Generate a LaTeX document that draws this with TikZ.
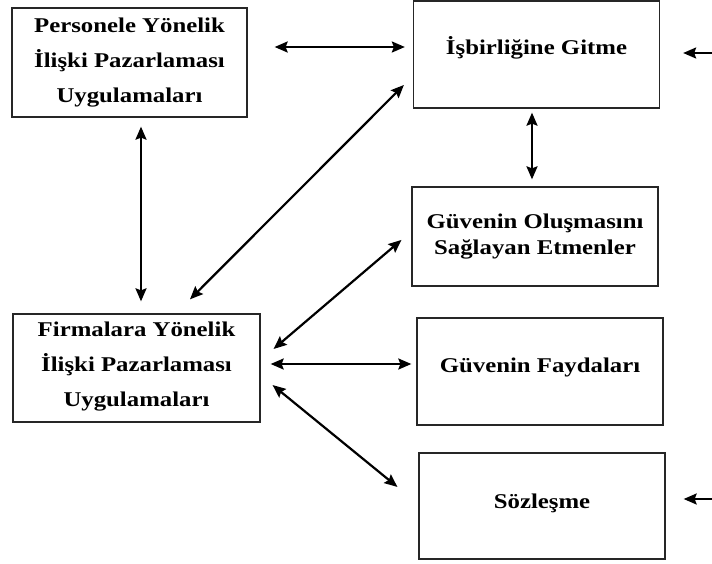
\documentclass[tikz,border=0pt]{standalone}
\usepackage{fontspec}
\setmainfont{Liberation Serif}[FakeStretch=1.18]
\usepackage{tikz}
\usetikzlibrary{arrows.meta,positioning}
\tikzstyle{arrow} = [<->,>={Stealth[length=13pt,width=11pt,inset=2pt]},line width=2.2pt,color=black]
\tikzstyle{onearrow} = [->,>={Stealth[length=13pt,width=11pt,inset=2pt]},line width=2.2pt,color=black]
\tikzstyle{kutu} = [rectangle, draw=black!85, line width=1.3pt, minimum width=246pt, minimum height=107pt, text centered, align=center, inner sep=0pt, font=\fontsize{21}{35}\selectfont\bfseries]

\begin{document}
\begin{tikzpicture}[x=1pt,y=-1pt]
\useasboundingbox (0,0) rectangle (712,563);
% Left boxes
\node[kutu, minimum width=235pt, minimum height=109pt] (personel) at (129.5,62.5) {Personele Yönelik\\İlişki Pazarlaması\\Uygulamaları};
\node[kutu, minimum width=247pt, minimum height=108pt, text depth=8pt] (firma) at (136.5,368) {Firmalara Yönelik\\İlişki Pazarlaması\\Uygulamaları};

% Right boxes
\node[kutu, minimum height=107pt, text depth=18pt] (isbirligi) at (536.5,54.5) {İşbirliğine Gitme};
\node[kutu, minimum height=99pt, font=\fontsize{21}{26}\selectfont\bfseries] (olusma) at (535,236.5) {Güvenin Oluşmasını\\Sağlayan Etmenler};
\node[kutu, text depth=12pt] (fayda) at (540,371.5) {Güvenin Faydaları};
\node[kutu, minimum height=106pt, text depth=9pt] (sozlesme) at (542,506) {Sözleşme};

% Incoming from the right
\coordinate (sagust) at (712,53);
\coordinate (sagalt) at (712,499);

% Arrows
\draw[arrow, shorten <=27pt, shorten >=8pt] ([yshift=15.5pt]personel.east) -- ([yshift=7.5pt]isbirligi.west);
\draw[arrow, shorten <=4pt, shorten >=7pt] ([xshift=-4.5pt]isbirligi.south) -- ([xshift=-3pt]olusma.north);
\draw[arrow, shorten <=9pt, shorten >=12pt] ([xshift=11.5pt]personel.south) -- ([xshift=4.5pt]firma.north);
\draw[arrow, shorten <=12.7pt, shorten >=19.8pt] ([yshift=-21.5pt]isbirligi.west) -- ([xshift=39.5pt]firma.north);
\draw[arrow, shorten <=13pt, shorten >=17pt] ([yshift=5pt]olusma.west) -- ([yshift=8pt]firma.east);
\draw[arrow, shorten <=10pt, shorten >=5pt] ([yshift=4pt]firma.east) -- (fayda.west |- 0,364);
\draw[arrow, shorten <=15.4pt, shorten >=27pt] ([yshift=-7.3pt]firma.east) -- ([yshift=2pt]sozlesme.west);
\draw[onearrow, shorten >=23pt] (sagust) -- ([yshift=1.5pt]isbirligi.east);
\draw[onearrow, shorten >=18pt] (sagalt) -- ([yshift=7pt]sozlesme.east);
\end{tikzpicture}
\end{document}
